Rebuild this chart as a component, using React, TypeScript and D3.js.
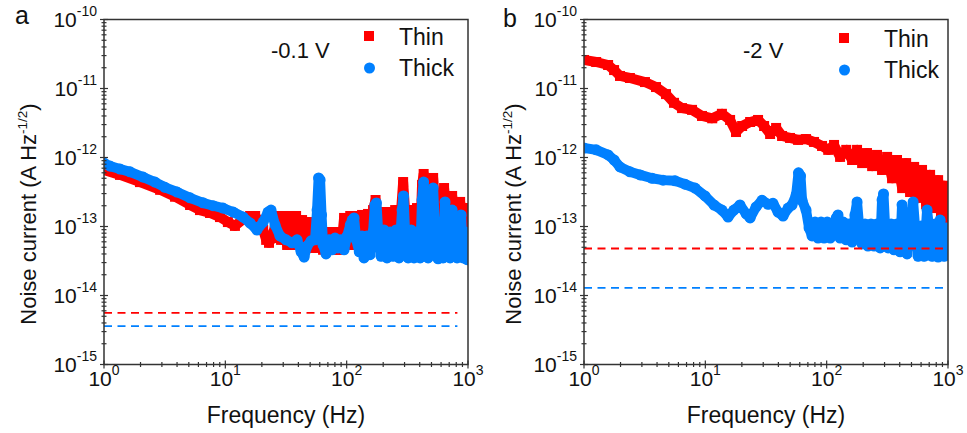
import React from 'react';
import * as d3 from 'd3';

const FONT = '"Liberation Sans", Arial, Helvetica, sans-serif';
const RED = '#FF0000';
const BLUE = '#0080FF';
const AXIS = '#333333';

const freqTicks = [1, 10, 100, 1000];
const freqTickExponents = ['0', '1', '2', '3'];
const noiseTicks = [1e-15, 1e-14, 1e-13, 1e-12, 1e-11, 1e-10];
const noiseTickExponents = ['-15', '-14', '-13', '-12', '-11', '-10'];
const seriesNames = ['Thin', 'Thick'];
const panelLabels = ['a', 'b'];
const biasLabels = ['-0.1 V', '-2 V'];

// Panel a (-0.1 V)
const aThinFreq = [1, 1.355, 1.98, 2.9, 3.85, 5.12, 6.18, 7.48, 9.04, 10.5, 12.0, 14.5, 16.0, 17.6, 19.3, 20.5, 21.7, 22.9, 24.3, 25.7, 27.2, 28.8, 30.5, 32.3, 34.2, 36.1, 38.3, 40.5, 42.9, 45.4, 48.1, 50.9, 53.8, 57.0, 60.4, 63.9, 67.6, 71.6, 75.8, 80.2, 84.9, 89.9, 95.2, 101, 107, 113, 120, 127, 134, 142, 150, 159, 165, 173, 178, 189, 200, 211, 224, 237, 251, 265, 281, 292, 303, 321, 340, 359, 380, 403, 418, 431, 443, 469, 496, 516, 536, 567, 600, 635, 660, 699, 740, 768, 813, 861, 894, 946, 983, 1000];
const aThinNoise = [6.6e-13, 5.6e-13, 4.4e-13, 3.4e-13, 2.7e-13, 2.05e-13, 1.73e-13, 1.57e-13, 1.37e-13, 1.16e-13, 1.02e-13,
  1.33e-13, 1.42e-13, 1.42e-13, 1.16e-13, 8.9e-14, 6.4e-14, 5.8e-14, 6.8e-14, 1.05e-13,
  1.42e-13, 6.4e-14, 1.42e-13, 5.4e-14, 1.42e-13, 5.4e-14, 1.42e-13, 5.4e-14, 1.24e-13, 4.9e-14,
  1.16e-13, 4.9e-14, 1.02e-13, 4.9e-14, 9.5e-14, 4.6e-14, 8.3e-14, 4.6e-14, 8.3e-14, 4.6e-14,
  8.3e-14, 4.6e-14, 1.33e-13, 5.4e-14, 1.42e-13, 5.4e-14, 1.42e-13, 5.4e-14, 1.47e-13, 5.4e-14,
  1.52e-13, 5.4e-14, 1.73e-13, 2.42e-13, 1.47e-13, 5.4e-14, 1.62e-13, 5.4e-14, 1.62e-13, 5.4e-14,
  1.73e-13, 5.4e-14, 1.73e-13, 4.41e-13, 1.73e-13, 5.4e-14, 1.73e-13, 5.4e-14, 1.85e-13, 6.4e-14,
  4.0e-13, 5.77e-13, 1.73e-13, 6.4e-14, 1.73e-13, 5.05e-13, 2.05e-13, 6.4e-14, 2.05e-13, 3.61e-13,
  1.73e-13, 6.4e-14, 2.77e-13, 1.62e-13, 6.4e-14, 2.27e-13, 1.47e-13, 6.4e-14, 1.85e-13, 1.24e-13];
const aThickFreq = [1, 1.12, 1.355, 1.64, 2.1, 2.63, 3.18, 4.0, 5.12, 6.55, 7.92, 9.57, 11.6, 14.0, 16.0, 18.2, 20.5, 22.5, 23.8, 25.7, 28.2, 31.7, 35.5, 39.0, 42.1, 44.6, 47.2, 50.9, 54.9, 57.0, 58.7, 60.4, 62.1, 63.9, 67.6, 71.6, 75.8, 80.2, 84.9, 89.9, 95.2, 101, 107, 111, 115, 120, 127, 134, 139, 147, 156, 165, 171, 176, 182, 192, 203, 215, 228, 241, 255, 270, 286, 294, 303, 321, 340, 359, 380, 403, 418, 431, 443, 469, 496, 516, 536, 567, 600, 623, 647, 672, 712, 740, 768, 813, 845, 877, 911, 946, 983, 1000];
const aThickNoise = [8.3e-13, 7.5e-13, 6.8e-13, 6.2e-13, 5.2e-13, 4.4e-13, 3.7e-13, 3.16e-13, 2.6e-13, 2.2e-13, 2.0e-13, 1.85e-13, 1.62e-13, 1.37e-13, 1.12e-13, 8.9e-14, 1.16e-13, 1.62e-13, 1.73e-13, 1.05e-13,
  7.3e-14, 6.4e-14, 5.8e-14, 6.4e-14, 4.3e-14, 3.6e-14, 5.2e-14, 6.2e-14, 6.4e-14, 1.73e-13,
  5.05e-13, 4.72e-13, 1.47e-13, 5.4e-14, 4.0e-14, 6.4e-14, 4.6e-14, 6.8e-14, 4.9e-14, 6.4e-14,
  4.6e-14, 7.3e-14, 1.05e-13, 1.24e-13, 1.33e-13, 6.4e-14, 4.3e-14, 7.3e-14, 3.5e-14, 7.3e-14,
  3.9e-14, 8.3e-14, 2.05e-13, 2.19e-13, 8.3e-14, 3.7e-14, 8.9e-14, 3.5e-14, 8.3e-14, 3.7e-14,
  8.9e-14, 3.5e-14, 1.73e-13, 2.77e-13, 8.3e-14, 3.5e-14, 8.9e-14, 3.5e-14, 8.3e-14, 3.5e-14,
  2.42e-13, 4.41e-13, 8.3e-14, 3.5e-14, 8.9e-14, 3.61e-13, 8.3e-14, 3.4e-14, 8.9e-14, 3.5e-14,
  2.27e-13, 8.3e-14, 3.5e-14, 1.73e-13, 7.3e-14, 3.5e-14, 8.9e-14, 1.47e-13, 3.5e-14, 8.3e-14,
  3.3e-14, 5.4e-14];
const aFloorNoise = [5.6e-15, 3.6e-15];

// Panel b (-2 V)
const bThinFreq = [1, 1.26, 1.58, 1.77, 1.98, 2.39, 3.18, 3.92, 4.74, 5.52, 6.43, 7.77, 9.39, 11.4, 13.7, 16.0, 17.9, 20.1, 23.4, 27.2, 30.5, 34.2, 38.3, 42.9, 49.9, 58.1, 67.6, 78.7, 91.6, 103, 115, 129, 145, 162, 178, 196, 215, 237, 260, 286, 315, 346, 380, 419, 452, 487, 526, 567, 611, 660, 712, 768, 829, 877, 929, 965, 1000];
const bThinNoise = [2.59e-11, 2.42e-11, 2.19e-11, 1.85e-11, 1.52e-11, 1.42e-11, 1.24e-11, 1.05e-11, 8.3e-12, 6.2e-12, 5.2e-12, 4.9e-12, 4.0e-12, 3.7e-12, 4.3e-12, 3.5e-12, 2.34e-12, 2.86e-12, 3.27e-12, 3.5e-12, 2.86e-12, 2.19e-12, 2.68e-12, 2.05e-12, 1.92e-12, 1.8e-12, 1.85e-12, 1.68e-12, 1.47e-12, 1.29e-12, 1.52e-12, 1.02e-12, 1.29e-12, 9.2e-13, 1.29e-12, 8.3e-13, 1.16e-12, 7.5e-13, 1.09e-12, 6.6e-13, 1.02e-12, 5.0e-13, 9.2e-13, 3.6e-13, 8.3e-13, 3.16e-13, 7.3e-13, 2.6e-13, 6.6e-13, 2.1e-13, 5.6e-13, 1.85e-13, 4.7e-13, 1.47e-13, 3.9e-13, 9.5e-14, 2.4e-13];
const bThickFreq = [1, 1.26, 1.58, 1.77, 1.98, 2.39, 2.9, 3.64, 4.48, 5.63, 6.8, 8.23, 9.94, 11.8, 13.7, 15.4, 17.2, 19.3, 21.7, 23.4, 26.2, 29.3, 32.9, 36.1, 39.7, 43.7, 48.1, 51.8, 56.0, 58.6, 60.9, 62.7,
  67.6, 71.6, 75.8, 80.2, 84.9, 89.9, 95.2, 101, 107, 113, 120, 124, 129, 137, 145, 153, 162, 171, 178, 185, 196, 207, 219, 232, 246, 260, 276, 286, 294, 303, 321, 340, 359, 380, 403, 418, 435, 460, 487, 516, 536, 567, 600, 635, 672, 699, 740, 783, 829, 861, 894, 929, 965, 1000];
const bThickNoise = [1.37e-12, 1.29e-12, 1.09e-12, 9.2e-13, 7.3e-13, 6.2e-13, 5.6e-13, 5.0e-13, 4.7e-13, 4.6e-13, 4.1e-13, 3.6e-13, 2.77e-13, 2.05e-13, 1.73e-13, 1.37e-13, 1.73e-13, 2.05e-13, 1.52e-13, 1.33e-13, 1.92e-13, 2.4e-13, 2.1e-13, 2.17e-13, 1.62e-13, 1.42e-13, 1.85e-13, 2.05e-13, 2.86e-13, 6.0e-13, 5.4e-13, 2.4e-13,
  1.73e-13, 9.5e-14, 7.3e-14, 1.16e-13, 6.8e-14, 1.16e-13, 6.8e-14, 1.16e-13, 6.8e-14, 1.09e-13,
  1.33e-13, 1.47e-13, 6.8e-14, 1.16e-13, 6.4e-14, 1.09e-13, 5.96e-14, 1.47e-13, 2.27e-13, 1.02e-13,
  5.58e-14, 1.09e-13, 5.2e-14, 1.09e-13, 5.2e-14, 1.09e-13, 4.9e-14, 2.42e-13, 2.96e-13, 1.02e-13,
  4.9e-14, 1.09e-13, 4.6e-14, 1.09e-13, 4.3e-14, 2.05e-13, 9.5e-14, 4.0e-14, 1.09e-13, 2.27e-13,
  9.5e-14, 3.7e-14, 1.02e-13, 3.7e-14, 1.73e-13, 9.5e-14, 3.7e-14, 1.09e-13, 3.6e-14, 1.24e-13,
  7.3e-14, 3.7e-14, 9.5e-14, 3.9e-14];
const bFloorNoise = [4.8e-14, 1.29e-14];

const floorStartFreq = 1;
const floorEndFreq = [818, 920];

const TOP = 19.5;
const BOTTOM = 364.5;
const W = 364;
const MARK = 10;

type Pt = [number, number];

function isMajor(v: number) {
  const l = Math.log10(v);
  return Math.abs(l - Math.round(l)) < 1e-6;
}

function Panel(props: any) {
  const {
    id, x0, thinF, thinV, thickF, thickV, floor, floorEnd, label, bias,
    labelX, labelY, titleX, legendX, legendY, legendTextX, biasX,
  } = props;
  const x = d3.scaleLog().domain([1, 1000]).range([x0, x0 + W]);
  const y = d3.scaleLog().domain([1e-15, 1e-10]).range([BOTTOM, TOP]);
  const thin: Pt[] = thinF.map((f: number, i: number) => [f, thinV[i]]);
  const thick: Pt[] = thickF.map((f: number, i: number) => [f, thickV[i]]);
  const line = d3.line<Pt>().x((d) => x(d[0])).y((d) => y(d[1]));
  const xAll = x.ticks();
  const yAll = y.ticks();
  const clipId = `clip-${id}`;
  return (
    <g>
      <defs>
        <clipPath id={clipId}>
          <rect x={x0} y={TOP} width={W} height={BOTTOM - TOP} />
        </clipPath>
      </defs>
      <g clipPath={`url(#${clipId})`}>
        <path d={line(thin) || ''} fill="none" stroke={RED} strokeWidth={MARK} strokeLinejoin="round" strokeLinecap="square" />
        {thin.map((d, i) => (
          <rect key={'t' + i} x={x(d[0]) - MARK / 2} y={y(d[1]) - MARK / 2} width={MARK} height={MARK} fill={RED} />
        ))}
        <path d={line(thick) || ''} fill="none" stroke={BLUE} strokeWidth={MARK} strokeLinejoin="round" strokeLinecap="round" />
        {thick.map((d, i) => (
          <circle key={'k' + i} cx={x(d[0])} cy={y(d[1])} r={MARK / 2 + 0.5} fill={BLUE} />
        ))}
        {floor.map((v: number, i: number) => (
          <line key={'f' + i} x1={x(floorStartFreq)} x2={x(floorEnd)} y1={y(v)} y2={y(v)}
            stroke={i === 0 ? RED : BLUE} strokeWidth={1.8} strokeDasharray="8,5.5" />
        ))}
      </g>
      <rect x={x0} y={TOP} width={W} height={BOTTOM - TOP} fill="none" stroke={AXIS} strokeWidth={1.5} />
      {xAll.map((v, i) => {
        const m = isMajor(v);
        const h = m ? 4 : 2.5;
        return <line key={'xt' + i} x1={x(v)} x2={x(v)} y1={BOTTOM - h} y2={BOTTOM + h} stroke={AXIS} strokeWidth={1.2} />;
      })}
      {yAll.map((v, i) => {
        const m = isMajor(v);
        const h = m ? 4 : 2.5;
        return <line key={'yt' + i} x1={x0 - h} x2={x0 + h} y1={y(v)} y2={y(v)} stroke={AXIS} strokeWidth={1.2} />;
      })}
      {freqTicks.map((v, i) => (
        <text key={'xl' + i} x={x(v)} y={386} textAnchor="middle" fontSize={21} fill="#111">
          10<tspan dy={-11} fontSize={14}>{freqTickExponents[i]}</tspan>
        </text>
      ))}
      {noiseTicks.map((v, i) => (
        <text key={'yl' + i} x={x0 - 7} y={y(v) + 7.5} textAnchor="end" fontSize={21} fill="#111">
          10<tspan dy={-11} fontSize={14}>{noiseTickExponents[i]}</tspan>
        </text>
      ))}
      <text x={x0 + W / 2} y={423} textAnchor="middle" fontSize={23} fill="#111">Frequency (Hz)</text>
      <text transform={`translate(${titleX},214) rotate(-90)`} textAnchor="middle" fontSize={22} fill="#111">
        Noise current (A Hz<tspan dy={-9} fontSize={13.5}>-1/2</tspan><tspan dy={9}>)</tspan>
      </text>
      <text x={labelX} y={labelY} fontSize={25} fill="#111">{label}</text>
      <text x={biasX} y={58} fontSize={22} fill="#111">{bias}</text>
      <rect x={legendX - 5} y={legendY - 5} width={10} height={10} fill={RED} />
      <circle cx={legendX + 0.5} cy={legendY + 32} r={5.5} fill={BLUE} />
      <text x={legendTextX} y={legendY + 9} fontSize={23} fill="#111">{seriesNames[0]}</text>
      <text x={legendTextX} y={legendY + 40} fontSize={23} fill="#111">{seriesNames[1]}</text>
    </g>
  );
}

export default function App() {
  return (
    <svg width={967} height={433} viewBox="0 0 967 433"
      style={{ position: 'absolute', left: 0, top: 0, background: '#fff', fontFamily: FONT }}>
      <rect x={0} y={0} width={967} height={433} fill="#fff" />
      <Panel id="a" x0={104} thinF={aThinFreq} thinV={aThinNoise} thickF={aThickFreq} thickV={aThickNoise}
        floor={aFloorNoise} floorEnd={floorEndFreq[0]} label={panelLabels[0]} bias={biasLabels[0]}
        labelX={15} labelY={23.5} titleX={36} legendX={369} legendY={36} legendTextX={399} biasX={271} />
      <Panel id="b" x0={584} thinF={bThinFreq} thinV={bThinNoise} thickF={bThickFreq} thickV={bThickNoise}
        floor={bFloorNoise} floorEnd={floorEndFreq[1]} label={panelLabels[1]} bias={biasLabels[1]}
        labelX={503} labelY={26.5} titleX={521} legendX={844} legendY={38} legendTextX={884} biasX={743} />
    </svg>
  );
}
